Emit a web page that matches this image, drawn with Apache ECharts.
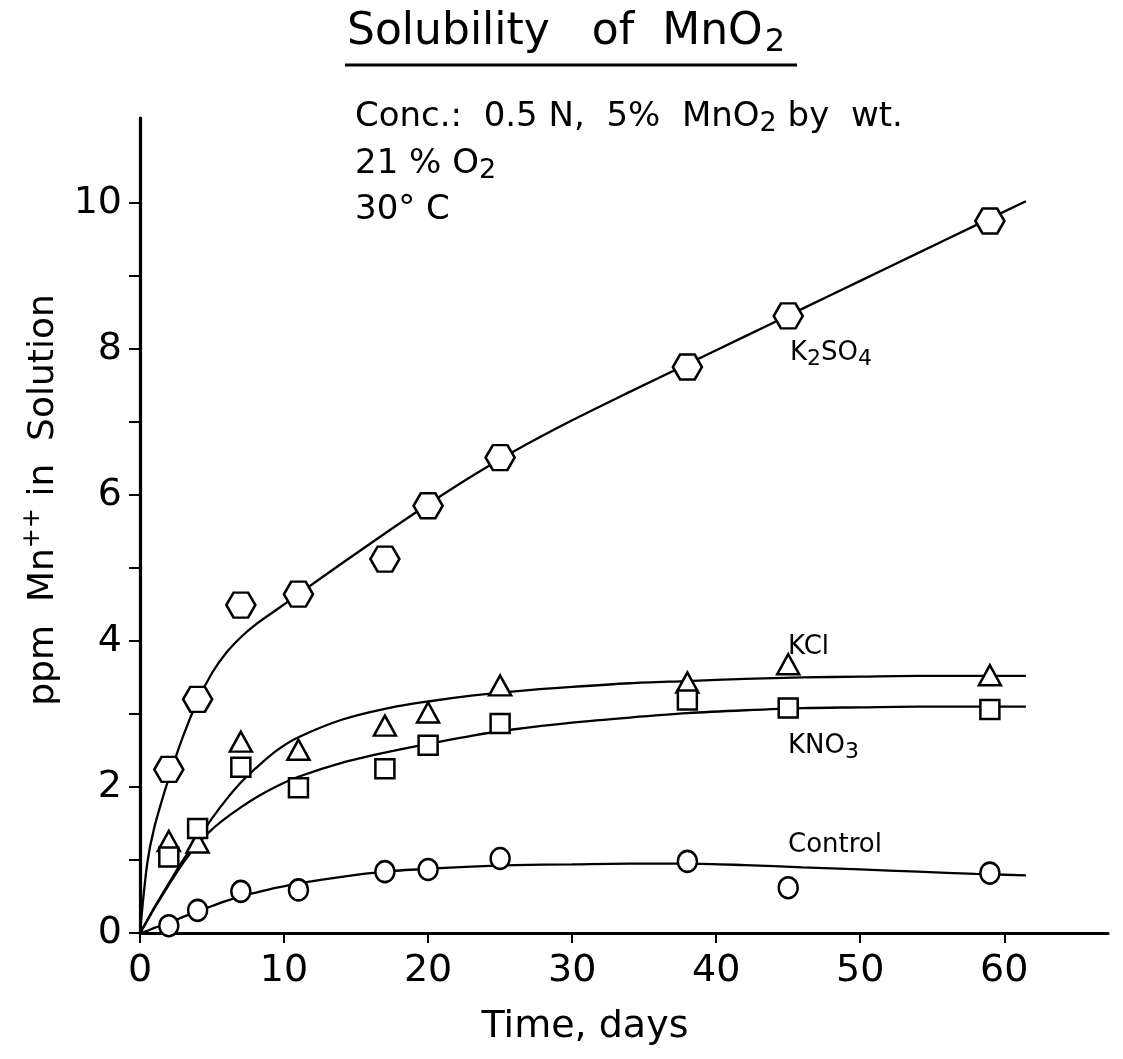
<!DOCTYPE html>
<html><head><meta charset="utf-8">
<script src="https://cdn.jsdelivr.net/npm/echarts@6/dist/echarts.min.js"></script>
<style>html,body{margin:0;padding:0;background:#fff}#c{width:1123px;height:1059px}</style>
</head><body><div id="c"></div>
<script>
// measured points (days, ppm Mn++)
const days = [2, 4, 7, 11, 17, 20, 25, 38, 45, 59];
const k2so4 = [2.24, 3.2, 4.49, 4.64, 5.12, 5.85, 6.51, 7.75, 8.45, 9.75];
const kcl = [1.26, 1.24, 2.62, 2.51, 2.84, 3.02, 3.39, 3.43, 3.68, 3.53];
const kno3 = [1.04, 1.43, 2.27, 1.99, 2.25, 2.57, 2.87, 3.19, 3.08, 3.06];
const control = [0.1, 0.31, 0.57, 0.59, 0.84, 0.87, 1.02, 0.98, 0.62, 0.82];

// fitted curves
const fitDays = [0, 0.5, 1, 2, 3, 4, 5, 6, 7, 8, 9.5, 11, 14, 17, 20, 23, 26, 30, 34, 38, 42, 46, 50, 54, 58, 61.5];
const k2so4Fit = [0, 0.95, 1.45, 2.12, 2.7, 3.18, 3.56, 3.84, 4.05, 4.22, 4.43, 4.64, 5.06, 5.47, 5.87, 6.25, 6.6, 7.02, 7.41, 7.79, 8.17, 8.55, 8.93, 9.31, 9.69, 10.02];
const kclFit = [0, 0.17, 0.35, 0.68, 1.0, 1.28, 1.57, 1.83, 2.06, 2.25, 2.5, 2.68, 2.92, 3.07, 3.17, 3.25, 3.31, 3.37, 3.42, 3.45, 3.48, 3.5, 3.51, 3.52, 3.52, 3.52];
const kno3Fit = [0, 0.17, 0.34, 0.66, 0.96, 1.22, 1.42, 1.58, 1.72, 1.85, 2.01, 2.14, 2.33, 2.47, 2.59, 2.7, 2.79, 2.88, 2.95, 3.01, 3.05, 3.08, 3.09, 3.1, 3.1, 3.1];
const controlFit = [0, 0.03, 0.07, 0.14, 0.22, 0.3, 0.37, 0.44, 0.5, 0.55, 0.62, 0.68, 0.77, 0.84, 0.88, 0.91, 0.93, 0.94, 0.95, 0.95, 0.93, 0.9, 0.87, 0.84, 0.81, 0.79];

// axis ticks
const xTicks = [0, 10, 20, 30, 40, 50, 60];
const yTicks = [0, 1, 2, 3, 4, 5, 6, 7, 8, 9, 10];
const yLabels = [0, 2, 4, 6, 8, 10];

const FONT = 'DejaVu Sans';
const pts = (xs, ys) => xs.map((x, i) => [x, ys[i]]);
const hexagon = 'path://M0,8.66 L5,0 L15,0 L20,8.66 L15,17.32 L5,17.32 Z';

function fitLine(name, ys) {
  return { name: name + ' fit', type: 'line', data: pts(fitDays, ys), smooth: 0.3,
    showSymbol: false, symbol: 'none', z: 2, silent: true,
    lineStyle: { color: '#000', width: 2.3 } };
}
function marks(name, ys, symbol, size) {
  return { name, type: 'scatter', data: pts(days, ys), symbol, symbolSize: size, symbolKeepAspect: false, z: 5,
    itemStyle: { color: '#fff', borderColor: '#000', borderWidth: 2.5, opacity: 1 } };
}
const sub = (fs, pad) => ({ fontFamily: FONT, fontSize: fs, color: '#000', padding: [pad, 0, 0, 0] });
const main = (fs) => ({ fontFamily: FONT, fontSize: fs, color: '#000' });

const chart = echarts.init(document.getElementById('c'), null, { renderer: 'canvas' });
chart.setOption({
  backgroundColor: '#fff',
  animation: false,
  grid: { left: 140, right: 15, top: 118, bottom: 126, containLabel: false },
  xAxis: {
    type: 'value', min: 0, max: 67.2,
    axisLine: { show: true, lineStyle: { color: '#000', width: 3.2 } },
    axisTick: { show: true, inside: false, length: 10, lineStyle: { color: '#000', width: 2 }, customValues: xTicks },
    axisLabel: { fontFamily: FONT, fontSize: 38, color: '#000', margin: 19, customValues: xTicks },
    splitLine: { show: false }
  },
  yAxis: {
    type: 'value', min: 0, max: 11.16,
    axisLine: { show: true, lineStyle: { color: '#000', width: 3.2 } },
    axisTick: { show: true, inside: false, length: 11, lineStyle: { color: '#000', width: 2 }, customValues: yTicks },
    axisLabel: { fontFamily: FONT, fontSize: 38, color: '#000', margin: 18, customValues: yLabels },
    splitLine: { show: false }
  },
  series: [
    fitLine('K2SO4', k2so4Fit), fitLine('KCl', kclFit), fitLine('KNO3', kno3Fit), fitLine('Control', controlFit),
    marks('K2SO4', k2so4, hexagon, [29, 25]),
    marks('KCl', kcl, 'triangle', [22, 20]),
    marks('KNO3', kno3, 'rect', [19, 19]),
    marks('Control', control, 'circle', [19, 21])
  ],
  graphic: [
    { type: 'text', left: 347, top: 11, style: { text: '{m|Solubility   of  MnO}{s|2}', fill: '#000',
        rich: { m: main(44), s: Object.assign(sub(32, 20), { padding: [20, 0, 0, 2] }) } } },
    { type: 'line', shape: { x1: 345, y1: 65, x2: 797, y2: 65 }, style: { stroke: '#000', lineWidth: 3 } },
    { type: 'text', left: 355, top: 100, style: { text: '{m|Conc.:  0.5 N,  5%  MnO}{s|2}{m| by  wt.}', fill: '#000',
        rich: { m: main(34), s: sub(27, 14) } } },
    { type: 'text', left: 355, top: 147, style: { text: '{m|21 % O}{s|2}', fill: '#000',
        rich: { m: main(34), s: sub(27, 14) } } },
    { type: 'text', left: 355, top: 193, style: { text: '30° C', fill: '#000', font: '34px "DejaVu Sans"' } },
    { type: 'text', x: 585, y: 1027, style: { text: 'Time, days', fill: '#000', font: '38px "DejaVu Sans"', align: 'center', verticalAlign: 'middle' } },
    { type: 'text', x: 44, y: 500, rotation: Math.PI / 2, style: { text: '{a|ppm  Mn}{sup|++}{a| in  Solution}', fill: '#000',
        align: 'center', verticalAlign: 'middle',
        rich: { a: main(36), sup: { fontFamily: FONT, fontSize: 24, color: '#000', padding: [0, 0, 22, 0] } } } },
    { type: 'text', left: 790, top: 340, style: { text: '{m|K}{s|2}{m|SO}{s|4}', fill: '#000',
        rich: { m: main(26), s: sub(22, 12) } } },
    { type: 'text', left: 788, top: 634, style: { text: 'KCl', fill: '#000', font: '26px "DejaVu Sans"' } },
    { type: 'text', left: 788, top: 733, style: { text: '{m|KNO}{s|3}', fill: '#000',
        rich: { m: main(26), s: sub(22, 12) } } },
    { type: 'text', left: 788, top: 832, style: { text: 'Control', fill: '#000', font: '26px "DejaVu Sans"' } }
  ]
});
</script>
</body></html>
